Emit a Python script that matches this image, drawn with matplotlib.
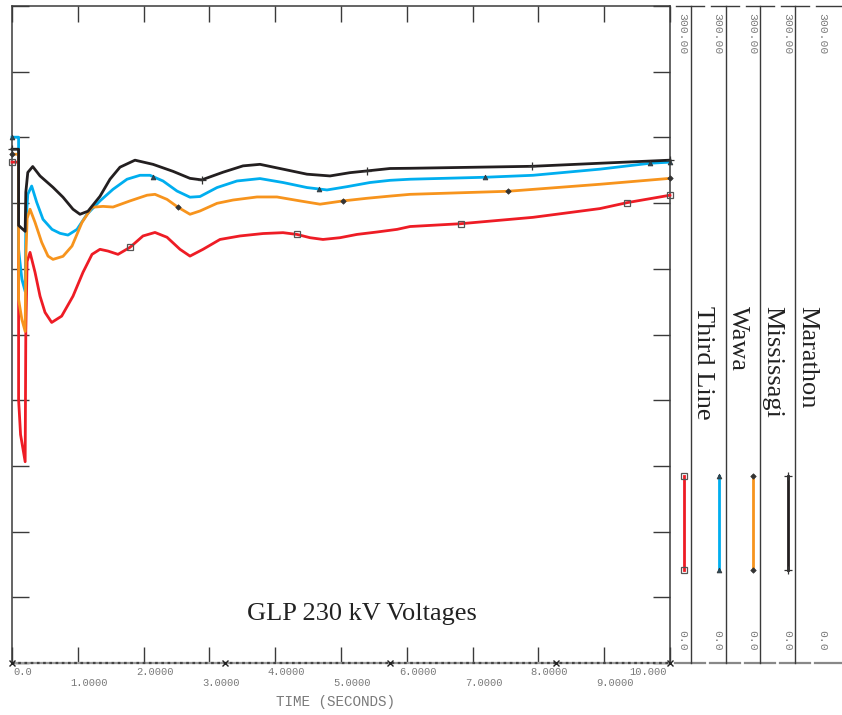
import numpy as np
import matplotlib
matplotlib.use("Agg")
import matplotlib.pyplot as plt
from matplotlib.lines import Line2D

W, H = 842, 715

# ---------------- data (time s, voltage on 0-300 scale) ----------------
t_marathon = [0.0, 0.1, 0.1001, 0.2, 0.21, 0.24, 0.315, 0.426, 0.623, 0.775, 0.927, 1.033, 1.155, 1.337,
              1.489, 1.641, 1.869, 2.143, 2.447, 2.705, 2.883, 3.207, 3.511, 3.769, 4.119, 4.483, 4.833,
              5.137, 5.395, 5.745, 6.049, 7.903, 8.936, 10.0]
v_marathon = [234.6, 234.6, 199.8, 197.1, 215.0, 224.0, 226.7, 222.4, 217.2, 212.7, 207.2, 204.9, 206.3, 213.1,
              220.9, 226.4, 229.6, 227.7, 224.5, 221.3, 220.6, 224.1, 227.0, 227.7, 225.5, 223.2, 222.4,
              223.9, 224.7, 225.8, 225.9, 226.8, 228.2, 229.6]

t_wawa = [0.0, 0.1, 0.1001, 0.15, 0.2, 0.21, 0.24, 0.299, 0.375, 0.471, 0.608, 0.730, 0.851, 0.988, 1.140,
          1.337, 1.535, 1.748, 1.945, 2.097, 2.295, 2.508, 2.705, 2.857, 3.116, 3.419, 3.769, 4.119, 4.483,
          4.787, 5.091, 5.441, 5.745, 6.049, 7.188, 7.918, 8.936, 9.696, 10.0]
v_wawa = [240.1, 240.1, 188.9, 175.2, 169.7, 200.0, 214.0, 217.8, 210.4, 202.6, 198.0, 196.2, 195.4, 198.0, 204.9,
          211.0, 216.3, 220.9, 222.7, 222.7, 220.1, 215.5, 212.7, 213.0, 217.1, 220.1, 221.2, 219.4, 217.1,
          216.0, 217.5, 219.4, 220.4, 220.9, 221.8, 222.7, 225.5, 228.2, 228.7]

t_miss = [0.0, 0.1, 0.1001, 0.15, 0.2, 0.21, 0.23, 0.274, 0.350, 0.451, 0.547, 0.623, 0.775, 0.912, 1.064,
          1.216, 1.383, 1.535, 1.793, 2.052, 2.173, 2.356, 2.523, 2.705, 2.857, 3.116, 3.359, 3.723, 4.027,
          4.377, 4.681, 5.030, 5.395, 5.745, 6.049, 7.538, 8.936, 10.0]
v_miss = [232.3, 232.3, 166.0, 156.9, 151.4, 185.0, 203.0, 207.2, 201.2, 192.1, 185.8, 184.3, 185.7, 190.4, 201.2,
          208.1, 208.5, 208.2, 211.0, 213.6, 214.0, 211.7, 208.1, 204.9, 206.4, 209.9, 211.4, 212.8, 212.8,
          211.0, 209.5, 211.0, 212.2, 213.2, 214.0, 215.4, 218.6, 221.3]

t_third = [0.0, 0.1, 0.1001, 0.13, 0.2, 0.21, 0.23, 0.274, 0.350, 0.426, 0.502, 0.603, 0.755, 0.927, 1.079,
           1.216, 1.337, 1.459, 1.611, 1.793, 1.991, 2.173, 2.356, 2.553, 2.705, 2.903, 3.161, 3.465, 3.815,
           4.119, 4.331, 4.529, 4.726, 4.985, 5.243, 5.547, 5.851, 6.049, 6.824, 7.918, 8.936, 9.347, 10.0]
v_third = [228.7, 228.7, 120.3, 104.3, 91.9, 152.0, 183.4, 187.5, 178.4, 167.5, 160.1, 155.5, 158.4, 167.5, 178.4,
           186.6, 188.9, 188.1, 186.6, 189.8, 195.0, 196.6, 194.4, 188.9, 185.8, 188.9, 193.4, 195.0, 196.1,
           196.5, 195.7, 194.2, 193.4, 194.2, 195.7, 196.8, 198.0, 199.3, 200.6, 203.5, 207.5, 210.2, 213.6]

# marker times along each curve
mk_third = [0.0, 1.793, 4.331, 6.824, 9.347, 10.0]
mk_wawa = [0.0, 2.143, 4.67, 7.19, 9.70, 10.0]
mk_miss = [0.0, 2.52, 5.03, 7.54, 10.0]
mk_marathon = [0.0, 2.88, 5.40, 7.90, 10.0]

axis_x_marks = [0.0, 3.24, 5.74, 8.27, 10.0]

names = ["Third Line", "Wawa", "Mississagi", "Marathon"]
colors = ["#ee1c25", "#00aeef", "#f7941d", "#231f20"]
x_ticks = [0, 1, 2, 3, 4, 5, 6, 7, 8, 9, 10]
x_ticklabels = ["0.0", "1.0000", "2.0000", "3.0000", "4.0000", "5.0000",
                "6.0000", "7.0000", "8.0000", "9.0000", "10.000"]
y_ticks = list(range(0, 301, 30))
title = "GLP 230 kV Voltages"
xlabel = "TIME (SECONDS)"

# ---------------- figure ----------------
fig = plt.figure(figsize=(W / 100, H / 100), dpi=100)
fig.patch.set_facecolor("white")

def fx(x):
    return x / W

def fy(y):
    return 1 - y / H

ax = fig.add_axes([fx(12), fy(663), (670 - 12) / W, (663 - 6) / H])
ax.set_xlim(0, 10)
ax.set_ylim(0, 300)
ax.patch.set_alpha(0)

spine_c = "#3a3a3a"
for s in ("left", "right", "top"):
    ax.spines[s].set_color(spine_c)
    ax.spines[s].set_linewidth(1.1)
ax.spines["bottom"].set_visible(False)

# bottom axis: gray dotted bar
ax.plot([0, 10], [0, 0], color="#9a9a9a", lw=1.6, clip_on=False, zorder=3)
ax.plot([0, 10], [0, 0], color="#444444", lw=1.6, ls=(0, (1.2, 1.6)), clip_on=False, zorder=3)

ax.set_yticks(y_ticks)
ax.set_yticklabels([])
ax.tick_params(axis="y", which="both", direction="in", length=12, width=1.0, color=spine_c,
               left=True, right=True)
ax.set_xticks(x_ticks)
ax.set_xticklabels([])
ax.tick_params(axis="x", direction="in", length=11.5, width=1.0, color=spine_c, bottom=True, top=True)

# curves
series = [(t_third, v_third, mk_third), (t_wawa, v_wawa, mk_wawa),
          (t_miss, v_miss, mk_miss), (t_marathon, v_marathon, mk_marathon)]
mstyles = [dict(marker="s", ms=4.5, mfc="none", mec="#555555", mew=0.9),
           dict(marker="^", ms=3.5, mfc="#2a4a5a", mec="#333333", mew=0.5),
           dict(marker="D", ms=2.8, mfc="#333333", mec="#333333", mew=0.5),
           dict(marker="+", ms=5.5, mec="#333333", mew=0.9)]

for (t, v, mk), c, ms in zip(series, colors, mstyles):
    ax.plot(t, v, color=c, lw=2.0, solid_joinstyle="round", zorder=4, clip_on=False)
    ax.plot(mk, np.interp(mk, t, v), ls="none", zorder=5, clip_on=False, **ms)

# x markers on the time axis
ax.plot(axis_x_marks, [0] * len(axis_x_marks), ls="none", marker="x", ms=5, mec="#222222",
        mew=1.0, clip_on=False, zorder=6)

# tick labels (staggered)
mono = "Liberation Mono"
lab_c = "#7a7a7a"
xt = ax.get_xaxis_transform()
for i, (tk, lb) in enumerate(zip(x_ticks, x_ticklabels)):
    if i == 0:
        xpos, ha = tk + 0.02, "left"
    elif i == len(x_ticks) - 1:
        xpos, ha = tk - 0.05, "right"
    else:
        xpos, ha = tk + 0.17, "center"
    ypos = -9 / 657 if i % 2 == 0 else -20 / 657
    ax.text(xpos, ypos, lb, transform=xt, ha=ha, va="center", family=mono, fontsize=7.6, color=lab_c)

fig.text(fx(336), fy(702), xlabel, ha="center", va="center", family=mono, fontsize=10.3, color=lab_c)

# title
fig.text(fx(362), fy(614), title, ha="center", va="center", family="Liberation Serif",
         fontsize=19, color="#222222")

# ---------------- right-side channel axes ----------------
line_c = "#3a3a3a"
for i in range(5):
    lx = 682 + 35 * i
    fig.add_artist(Line2D([fx(lx - 6), fx(lx + 22)], [fy(6), fy(6)], color=line_c, lw=1.0))
    fig.add_artist(Line2D([fx(lx - 7), fx(lx + 23)], [fy(663), fy(663)], color="#888888", lw=1.6))
    if i < 4:
        vx = 691 + 34.7 * i
        fig.add_artist(Line2D([fx(vx), fx(vx)], [fy(6), fy(663)], color=line_c, lw=1.0))
    fig.text(fx(lx), fy(13), "300.00", rotation=-90, ha="center", va="top", family=mono,
             fontsize=8.2, color=lab_c)
    fig.text(fx(lx), fy(630), "0.0", rotation=-90, ha="center", va="top", family=mono,
             fontsize=8.2, color=lab_c)

# legend: vertical coloured bars with end markers and rotated names
for i, (nm, c, ms) in enumerate(zip(names, colors, mstyles)):
    bx = 684 + 34.7 * i
    fig.add_artist(Line2D([fx(bx), fx(bx)], [fy(476), fy(570)], color=c, lw=2.0, **ms))
    fig.text(fx(bx + 19), fy(306), nm, rotation=-90, ha="center", va="top",
             family="Liberation Serif", fontsize=19, color="#222222")

fig.savefig("out.png", dpi=100, facecolor="white")
